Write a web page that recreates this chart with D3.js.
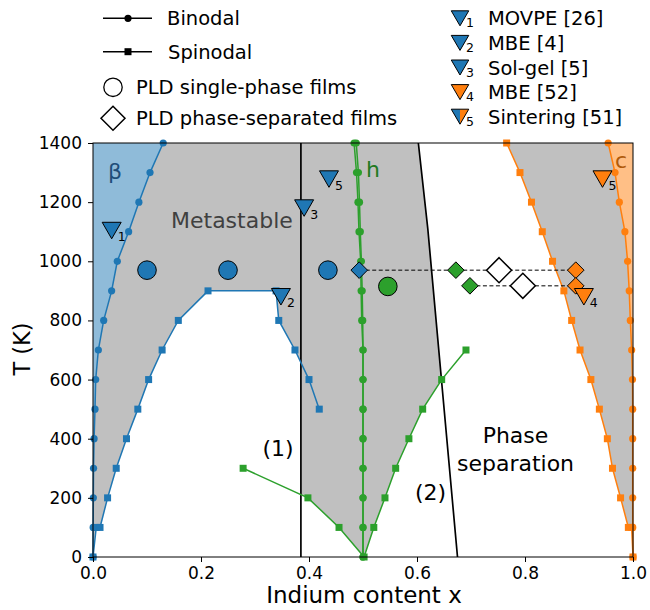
<!DOCTYPE html>
<html><head><meta charset="utf-8">
<script src="https://cdn.jsdelivr.net/npm/d3@7"></script>
<style>body{margin:0;background:#fff} svg{display:block} text{font-family:"DejaVu Sans",sans-serif}</style>
</head><body><svg id="c" width="650" height="610"></svg>
<script>
// ---------------- data ----------------
const tempGrid = [0,100,200,300,400,500,600,700,800,900,1000,1100,1200,1300,1400];
const betaBinodalX = [0,0.0003,0.0006,0.001,0.002,0.0037,0.005,0.0099,0.0198,0.0345,0.045,0.066,0.085,0.1056,0.130];
const betaSpinodalX = [0,0.006,0.013,0.027,0.043,0.062,0.083,0.103,0.128,0.158,0.213,0.339,0.344,0.374,0.400,0.419];
const betaSpinodalT = [0,100,100,200,300,400,500,600,700,800,900,900,800,700,600,500];
const hBinodalLeftX  = [0.5,0.5,0.5,0.5,0.5,0.5,0.5,0.5,0.4976,0.4965,0.4957,0.4926,0.4907,0.488,0.4835];
const hBinodalRightX = [0.5,0.5,0.5,0.5,0.5,0.5,0.5,0.5,0.4995,0.4985,0.497,0.495,0.4935,0.4915,0.4875];
const hSpinodalX = [0.278,0.398,0.4556,0.502,0.520,0.5407,0.5605,0.585,0.6105,0.6457,0.6907];
const hSpinodalT = [300,200,100,0,100,200,300,400,500,600,700];
const cBinodalX = [1.0,0.9995,0.9994,0.9994,0.9994,0.9994,0.999,0.9975,0.995,0.993,0.990,0.985,0.9747,0.9667,0.954];
const cSpinodalX = [1.0,0.9975,0.9914,0.977,0.962,0.9525,0.9377,0.922,0.9019,0.8864,0.872,0.851,0.832,0.812,0.7907,0.766];
const cSpinodalT = [0,100,100,200,300,400,500,600,700,800,900,1000,1100,1200,1300,1400];
const boundary1X = [0.385,0.385];
const boundary1T = [0,1400];
const boundary2X = [0.675,0.620,0.6025];
const boundary2T = [0,1110,1400];
// PLD films
const singleX = [0.10,0.25,0.435,0.546];
const singleT = [970,970,970,915];
const singlePhase = ["b","b","b","h"];
const sepX = [0.493,0.672,0.752,0.894,0.698,0.796,0.894];
const sepT = [970,970,970,970,917,917,917];
const sepPhase = ["b","h","w","c","h","w","c"];
const tieStartX = [0.493,0.698];
const tieEndX = [0.894,0.894];
const tieT = [970,917];
// literature
const litX = [0.0346,0.348,0.391,0.909,0.437,0.9435];
const litT = [1104,880,1180,880,1278,1278];
const litRef = ["1","2","3","4","5","5"];
const litPhase = ["b","b","b","c","b","c"];
const litLegend = ["MOVPE [26]","MBE [4]","Sol-gel [5]","MBE [52]","Sintering [51]"];
const litLegendPhase = ["b","b","b","c","bc"];
const xTicks = [0,0.2,0.4,0.6,0.8,1.0];
const yTicks = [0,200,400,600,800,1000,1200,1400];

// ---------------- drawing ----------------
const C0="#1f77b4", C1="#ff7f0e", C2="#2ca02c";
const col = {b:C0, h:C2, c:C1, w:"#ffffff"};
const svg = d3.select("#c");
const x = d3.scaleLinear([0,1],[93,633]);
const y = d3.scaleLinear([0,1400],[557,143]);
const line = d3.line().x(d=>x(d[0])).y(d=>y(d[1]));
const zip = (xs,ts)=>xs.map((v,i)=>[v,ts[i]]);

const betaBin = zip(betaBinodalX,tempGrid);
const betaSp = zip(betaSpinodalX,betaSpinodalT);
const hBinL = zip(hBinodalLeftX,tempGrid);
const hBinR = zip(hBinodalRightX,tempGrid);
const hSp = zip(hSpinodalX,hSpinodalT);
const cBin = zip(cBinodalX,tempGrid);
const cSp = zip(cSpinodalX,cSpinodalT);
const b1 = zip(boundary1X,boundary1T);
const b2 = zip(boundary2X,boundary2T);

function b2At(T){
  for(let i=0;i<b2.length-1;i++){const a=b2[i],b=b2[i+1]; if(T>=a[1]&&T<=b[1]) return a[0]+(b[0]-a[0])*(T-a[1])/(b[1]-a[1]);}
  return b2[b2.length-1][0];
}
function crossAtX(pts,X){
  for(let i=0;i<pts.length-1;i++){const a=pts[i],b=pts[i+1]; if((a[0]-X)*(b[0]-X)<=0 && a[0]!==b[0]) return a[1]+(b[1]-a[1])*(X-a[0])/(b[0]-a[0]);}
  return null;
}
const xL = boundary1X[0], Tmax=1400;
const gFill = svg.append("g");
gFill.append("path").attr("d", line(betaBin.concat([[0,Tmax]]))+"Z").attr("fill","#8fbbd9");
gFill.append("path").attr("d", line(cBin.concat([[1,Tmax],[1,0]]))+"Z").attr("fill","#ffbf86");
{
  const rightPart = betaSp.slice(10);
  const Tc = crossAtX(rightPart, xL);
  const spRev = betaSp.filter((p,i)=> i<=10 || p[0]<=xL).slice().reverse();
  const poly = betaBin.concat([[xL,Tmax],[xL,Tc]]).concat(spRev);
  gFill.append("path").attr("d", line(poly)+"Z").attr("fill","#c0c0c0");
}
{
  const Tc = crossAtX(hSp.slice(0,2), xL);
  const inner = hSp.filter(p=> p[0]>xL && p[0] <= b2At(p[1])+0.001);
  const lastT = inner[inner.length-1][1];
  const up = b2.filter(p=>p[1]>lastT);
  const poly = [[xL,Tmax],[xL,Tc]].concat(inner).concat(up);
  gFill.append("path").attr("d", line(poly)+"Z").attr("fill","#c0c0c0");
}
gFill.append("path").attr("d", line(cSp.concat(cBin.slice().reverse()))+"Z").attr("fill","#c0c0c0");

const gB = svg.append("g").attr("fill","none").attr("stroke","#000").attr("stroke-width",1.7);
gB.append("path").attr("d", line(b1));
gB.append("path").attr("d", line(b2));

function curve(pts,c,marker){
  const g = svg.append("g");
  g.append("path").attr("d",line(pts)).attr("fill","none").attr("stroke",c).attr("stroke-width",1.5);
  if(marker==="o") g.selectAll("circle").data(pts).join("circle").attr("cx",d=>x(d[0])).attr("cy",d=>y(d[1])).attr("r",3.6).attr("fill",c);
  else g.selectAll("rect").data(pts).join("rect").attr("x",d=>x(d[0])-3.5).attr("y",d=>y(d[1])-3.5).attr("width",7).attr("height",7).attr("fill",c);
}
curve(betaBin,C0,"o"); curve(betaSp,C0,"s");
curve(hBinL,C2,"o"); curve(hBinR,C2,"o"); curve(hSp,C2,"s");
curve(cBin,C1,"o"); curve(cSp,C1,"s");

svg.append("g").selectAll("line").data(tieT).join("line")
  .attr("x1",(d,i)=>x(tieStartX[i])).attr("x2",(d,i)=>x(tieEndX[i])).attr("y1",d=>y(d)).attr("y2",d=>y(d))
  .attr("stroke","#000").attr("stroke-width",1).attr("stroke-dasharray","4,2.5");

const diamond=(cx,cy,r)=>`M${cx},${cy-r}L${cx+r},${cy}L${cx},${cy+r}L${cx-r},${cy}Z`;
const tri=(cx,cy,w,h)=>`M${cx-w/2},${cy-h/2}L${cx+w/2},${cy-h/2}L${cx},${cy+h/2}Z`;

svg.append("g").selectAll("path").data(sepX).join("path")
  .attr("d",(d,i)=>diamond(x(d),y(sepT[i]), sepPhase[i]==="w"?12.5:8.3))
  .attr("fill",(d,i)=>col[sepPhase[i]]).attr("stroke","#000").attr("stroke-width",(d,i)=>sepPhase[i]==="w"?1.5:1);
svg.append("g").selectAll("circle").data(singleX).join("circle")
  .attr("cx",d=>x(d)).attr("cy",(d,i)=>y(singleT[i])).attr("r",9.3)
  .attr("fill",(d,i)=>col[singlePhase[i]]).attr("stroke","#000").attr("stroke-width",1);
const gT = svg.append("g");
litX.forEach((d,i)=>{
  const cx=x(d), cy=y(litT[i]);
  gT.append("path").attr("d",tri(cx,cy,19,16.5)).attr("fill",col[litPhase[i]]).attr("stroke","#000").attr("stroke-width",1);
  gT.append("text").attr("x",cx+6).attr("y",cy+10.5).attr("font-size",12.5).text(litRef[i]);
});

svg.append("rect").attr("x",93).attr("y",143).attr("width",540).attr("height",414).attr("fill","none").attr("stroke","#000").attr("stroke-width",1);
const ax = svg.append("g").attr("transform","translate(0,557)")
  .call(d3.axisBottom(x).tickValues(xTicks).tickFormat(d3.format(".1f")).tickSize(5).tickPadding(5).tickSizeOuter(0));
const ay = svg.append("g").attr("transform","translate(93,0)")
  .call(d3.axisLeft(y).tickValues(yTicks).tickFormat(d3.format("d")).tickSize(5).tickPadding(6).tickSizeOuter(0));
[ax,ay].forEach(a=>{a.select(".domain").remove(); a.selectAll("text").attr("font-size",17).attr("font-family","DejaVu Sans").attr("fill","#000"); a.selectAll("line").attr("stroke","#000");});

svg.append("text").attr("x",364).attr("y",603).attr("text-anchor","middle").attr("font-size",23).text("Indium content x");
svg.append("text").attr("transform","translate(30,349) rotate(-90)").attr("text-anchor","middle").attr("font-size",22.5).text("T (K)");

const ann=(t,xx,yy,opts={})=>svg.append("text").attr("x",xx).attr("y",yy).attr("font-size",opts.fs||22).attr("fill",opts.fill||"#000").attr("text-anchor",opts.anchor||"start").text(t);
ann("β",108,178.5,{fill:"#1f4e79"});
ann("h",366,176.7,{fill:"#217a21"});
ann("c",615,168.3,{fill:"#b05a0a"});
ann("Metastable",171,227.7,{fill:"#404040"});
ann("(1)",278,456,{anchor:"middle"});
ann("(2)",430.5,500,{anchor:"middle"});
ann("Phase",515.5,443,{anchor:"middle"});
ann("separation",515.5,471,{anchor:"middle"});

const L = svg.append("g");
L.append("line").attr("x1",103).attr("x2",152).attr("y1",18.3).attr("y2",18.3).attr("stroke","#000").attr("stroke-width",1.5);
L.append("circle").attr("cx",128).attr("cy",18.3).attr("r",3.6);
L.append("line").attr("x1",103).attr("x2",152).attr("y1",51.7).attr("y2",51.7).attr("stroke","#000").attr("stroke-width",1.5);
L.append("rect").attr("x",124.5).attr("y",48.2).attr("width",7).attr("height",7);
L.append("circle").attr("cx",113).attr("cy",87.3).attr("r",9.2).attr("fill","#fff").attr("stroke","#000").attr("stroke-width",1.3);
L.append("path").attr("d",diamond(113,118.3,12)).attr("fill","#fff").attr("stroke","#000").attr("stroke-width",1.5);
[["Binodal",167,25.4],["Spinodal",168,58.8],["PLD single-phase films",136,94.4],["PLD phase-separated films",136,125.4]]
  .forEach(t=>L.append("text").attr("x",t[1]).attr("y",t[2]).attr("font-size",19.5).text(t[0]));

const R = svg.append("g");
litLegend.forEach((t,i)=>{
  const cy=18.3+24.6*i, cx=460, w=17.5, h=15;
  const ph=litLegendPhase[i];
  if(ph==="bc"){
    R.append("path").attr("d",`M${cx-w/2},${cy-h/2}L${cx},${cy-h/2}L${cx},${cy+h/2}Z`).attr("fill",C0);
    R.append("path").attr("d",`M${cx},${cy-h/2}L${cx+w/2},${cy-h/2}L${cx},${cy+h/2}Z`).attr("fill",C1);
    R.append("path").attr("d",tri(cx,cy,w,h)).attr("fill","none").attr("stroke","#000").attr("stroke-width",1);
  } else {
    R.append("path").attr("d",tri(cx,cy,w,h)).attr("fill",col[ph]).attr("stroke","#000").attr("stroke-width",1);
  }
  R.append("text").attr("x",cx+6).attr("y",cy+9).attr("font-size",12.5).text(String(i+1));
  R.append("text").attr("x",488).attr("y",cy+7).attr("font-size",19.5).text(t);
});
</script></body></html>
